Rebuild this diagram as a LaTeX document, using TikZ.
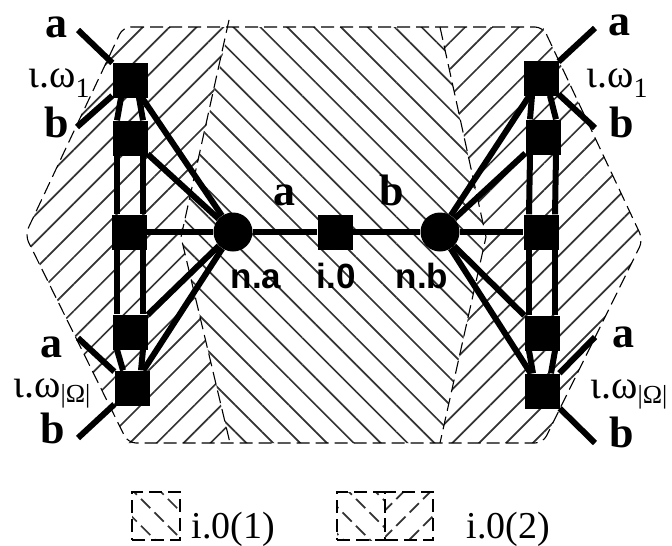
\documentclass[tikz,border=0pt]{standalone}
\usepackage{fontspec}
\setmainfont{Liberation Serif}
\setsansfont{Liberation Sans}
\usetikzlibrary{patterns.meta}

\begin{document}
\begin{tikzpicture}[x=1pt, y=-1pt,
  sq/.style={fill, rectangle, inner sep=0pt, minimum size=35pt},
  hub/.style={fill, circle, inner sep=0pt, minimum size=39pt},
  edge/.style={line width=6pt},
  zone/.style={dash pattern=on 13pt off 6pt, line width=1.1pt},
  hatchA/.style={pattern={Lines[angle=-45, distance=19pt, line width=1.7pt]}, pattern color=black!80},
  hatchB/.style={pattern={Lines[angle=45, distance=19pt, line width=1.7pt]}, pattern color=black!80},
  port/.style={font=\fontsize{44}{44}\selectfont\bfseries, anchor=base},
  nm/.style={font=\fontsize{35}{35}\selectfont\sffamily\bfseries, anchor=base},
  om/.style={font=\fontsize{40}{40}\selectfont, anchor=base west},
  key/.style={font=\fontsize{38}{38}\selectfont, anchor=base west}
]
  \useasboundingbox (0,0) rectangle (672,546);

  \fill[hatchB] (123,27) -- (229,27) -- (181,237) -- (230,443) -- (128,443) -- (25,235) -- cycle;
  \fill[hatchA] (229,27) -- (440,27) -- (486,237) -- (440,443) -- (230,443) -- (181,237) -- cycle;
  \fill[hatchB] (440,27) -- (543,27) -- (643,240) -- (543,443) -- (440,443) -- (486,237) -- cycle;
  \draw[zone, rounded corners=8pt] (123,27) -- (543,27) -- (643,240) -- (543,443) -- (128,443) -- (25,235) -- cycle;
  \draw[zone] (229,20) -- (181,237) -- (230,443);
  \draw[zone] (440,27) -- (486,237) -- (440,443);

  \node[hub] (na) at (233,232) {};
  \node[sq] (i0) at (335,232) {};
  \node[hub] (nb) at (440,232) {};

  \node[sq] (lw1) at (130,80) {};
  \node[sq] (lw2) at (130,138) {};
  \node[sq] (lw3) at (129,232) {};
  \node[sq] (lw4) at (130,332) {};
  \node[sq] (lw5) at (132,388) {};
  \node[sq] (rw1) at (541,78) {};
  \node[sq] (rw2) at (543,137) {};
  \node[sq] (rw3) at (541,232) {};
  \node[sq] (rw4) at (542,333) {};
  \node[sq] (rw5) at (542,391) {};

  \coordinate (lw1a) at (78,30);
  \coordinate (lw1b) at (77,127);
  \coordinate (lw5a) at (78,338);
  \coordinate (lw5b) at (78,438);
  \coordinate (rw1a) at (595,28);
  \coordinate (rw1b) at (595,128);
  \coordinate (rw5a) at (595,337);
  \coordinate (rw5b) at (595,443);

  \draw[edge] (na) -- (i0) -- (nb);
  \draw[edge] (na) -- (lw1);
  \draw[edge] (na) -- (lw2);
  \draw[edge] (na) -- (lw3);
  \draw[edge] (na) -- (lw4);
  \draw[edge] (na) -- (lw5);
  \draw[edge] (nb) -- (rw1);
  \draw[edge] (nb) -- (rw2);
  \draw[edge] (nb) -- (rw3);
  \draw[edge] (nb) -- (rw4);
  \draw[edge] (nb) -- (rw5);

  \draw[edge] ([xshift=-9pt]lw1.south) -- ([xshift=-13pt]lw2.north);
  \draw[edge] ([xshift=9pt]lw1.south) -- ([xshift=13pt]lw2.north);
  \draw[edge] ([xshift=-13pt]lw2.south) -- ([xshift=-12pt]lw3.north);
  \draw[edge] ([xshift=13pt]lw2.south) -- ([xshift=14pt]lw3.north);
  \draw[edge] ([xshift=-12pt]lw3.south) -- ([xshift=-13pt]lw4.north);
  \draw[edge] ([xshift=14pt]lw3.south) -- ([xshift=13pt]lw4.north);
  \draw[edge] ([xshift=-13pt]lw4.south) -- ([xshift=-9pt]lw5.north);
  \draw[edge] ([xshift=13pt]lw4.south) -- ([xshift=9pt]lw5.north);

  \draw[edge] ([xshift=-9pt]rw1.south) -- ([xshift=-13pt]rw2.north);
  \draw[edge] ([xshift=9pt]rw1.south) -- ([xshift=13pt]rw2.north);
  \draw[edge] ([xshift=-13pt]rw2.south) -- ([xshift=-12pt]rw3.north);
  \draw[edge] ([xshift=13pt]rw2.south) -- ([xshift=14pt]rw3.north);
  \draw[edge] ([xshift=-12pt]rw3.south) -- ([xshift=-13pt]rw4.north);
  \draw[edge] ([xshift=14pt]rw3.south) -- ([xshift=13pt]rw4.north);
  \draw[edge] ([xshift=-13pt]rw4.south) -- ([xshift=-9pt]rw5.north);
  \draw[edge] ([xshift=13pt]rw4.south) -- ([xshift=9pt]rw5.north);

  \draw[edge] (lw1) -- (lw1a);
  \draw[edge] (lw1) -- (lw1b);
  \draw[edge] (lw5) -- (lw5a);
  \draw[edge] (lw5) -- (lw5b);
  \draw[edge] (rw1) -- (rw1a);
  \draw[edge] (rw1) -- (rw1b);
  \draw[edge] (rw5) -- (rw5a);
  \draw[edge] (rw5) -- (rw5b);

  \node[port] (la1) at (56,37) {a};
  \node[port] (lb1) at (57,137) {b};
  \node[port] (la5) at (51,357) {a};
  \node[port] (lb5) at (53,443) {b};
  \node[port] (ra1) at (619,35) {a};
  \node[port] (rb1) at (622,137) {b};
  \node[port] (ra5) at (623,347) {a};
  \node[port] (rb5) at (622,447) {b};
  \node[port] (ea) at (284,205) {a};
  \node[port] (eb) at (392,205) {b};

  \node[nm] (nat) at (256,288) {n.a};
  \node[nm] (i0t) at (336,288) {i.0};
  \node[nm] (nbt) at (422,288) {n.b};

  \node[om] (lw1t) at (25,87) {ι.ω\raisebox{-10pt}{\fontsize{28}{28}\selectfont 1}};
  \node[om] (lw5t) at (10,397) {ι.ω\raisebox{-5pt}{\fontsize{26}{26}\selectfont |Ω|}};
  \node[om] (rw1t) at (583,87) {ι.ω\raisebox{-10pt}{\fontsize{28}{28}\selectfont 1}};
  \node[om] (rw5t) at (587,398) {ι.ω\raisebox{-5pt}{\fontsize{26}{26}\selectfont |Ω|}};

  \node[zone, draw, hatchA, inner sep=0pt, minimum size=48pt] (k1) at (156,516) {};
  \node[key] (k1t) at (188,538) {i.0(1)};
  \node[zone, draw, hatchA, inner sep=0pt, minimum size=48pt] (k2a) at (361,516) {};
  \node[zone, draw, hatchB, inner sep=0pt, minimum size=48pt] (k2b) at (409,516) {};
  \node[key] (k2t) at (463,538) {i.0(2)};
\end{tikzpicture}
\end{document}
